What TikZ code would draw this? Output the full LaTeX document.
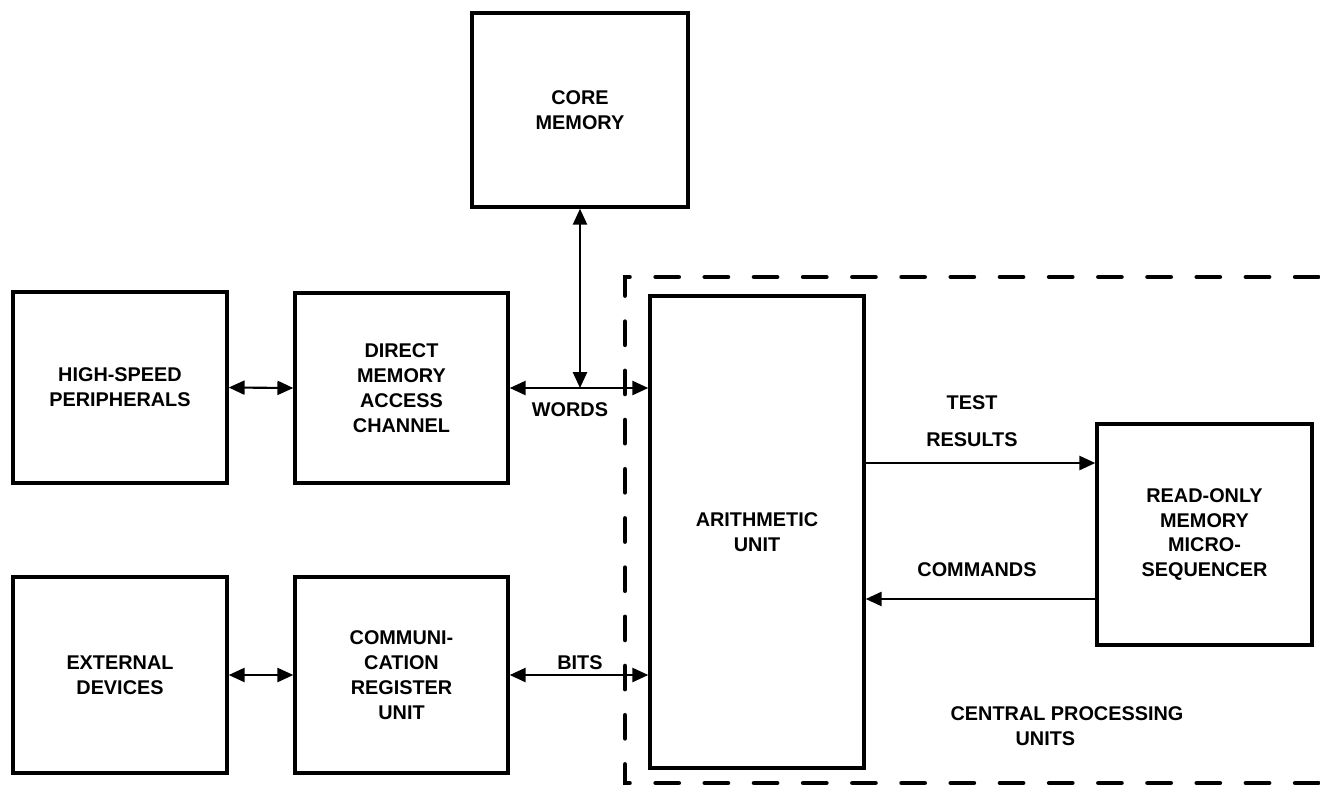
\documentclass[tikz,border=0pt]{standalone}
\usepackage{fontspec}
\setmainfont{Liberation Sans}
\usetikzlibrary{arrows.meta}

\begin{document}
\begin{tikzpicture}[x=0.02cm,y=-0.02cm,
    every node/.style={font=\fontsize{11.3}{14.2}\selectfont\bfseries},
    unit/.style={draw,line width=2pt,align=center,inner sep=0pt},
    link/.style={line width=1.2pt,{Triangle[length=9pt,width=8pt]}-{Triangle[length=9pt,width=8pt]}},
    oneway/.style={line width=1.2pt,-{Triangle[length=9pt,width=8pt]}},
    cpu/.style={line width=2.8pt,line cap=round,dash pattern=on 13pt off 15pt,dash phase=6.5pt}]
    \useasboundingbox (0,0) rectangle (1320,789);
    % the boxes
    \node[unit,minimum width=4.32cm,minimum height=3.88cm] (core) at (580,110) {CORE\\MEMORY};
    \node[unit,minimum width=4.28cm,minimum height=3.82cm] (hsp) at (120,387.5) {HIGH-SPEED\\PERIPHERALS};
    \node[unit,minimum width=4.26cm,minimum height=3.8cm] (dma) at (401.5,388) {DIRECT\\MEMORY\\ACCESS\\CHANNEL};
    \node[unit,minimum width=4.28cm,minimum height=3.92cm] (ext) at (120,675) {EXTERNAL\\DEVICES};
    \node[unit,minimum width=4.26cm,minimum height=3.92cm] (cru) at (401.5,675) {COMMUNI-\\CATION\\REGISTER\\UNIT};
    \node[unit,minimum width=4.28cm,minimum height=9.44cm] (au) at (757,532) {ARITHMETIC\\UNIT};
    \node[unit,minimum width=4.3cm,minimum height=4.42cm] (rom) at (1204.5,534.5) {READ-ONLY\\MEMORY\\MICRO-\\SEQUENCER};
    % central processing units frame
    \draw[cpu] (625,530) -- (625,277) -- (1340,277);
    \draw[cpu] (625,530) -- (625,783) -- (1340,783);
    % connections
    \draw[link] (hsp.east) -- (dma.west);
    \draw[link] (dma.east) -- (dma.east -| au.west);
    \draw[link] (core.south) -- (core.south |- dma.east);
    \draw[link] (ext.east) -- (cru.west);
    \draw[link] (cru.east) -- (cru.east -| au.west);
    \coordinate (tr) at ([yshift=1.43cm]rom.west);
    \coordinate (cmd) at ([yshift=-1.29cm]rom.west);
    \draw[oneway] (tr -| au.east) -- (tr);
    \draw[oneway] (cmd) -- (cmd -| au.east);
    % labels
    \node (words) at (570,410) {WORDS};
    \node (bits) at (580,663) {BITS};
    \node[align=center] (test) at (972,421) {TEST\\[7pt]RESULTS};
    \node (cmds) at (977,570) {COMMANDS};
    \node[align=left] (cpuname) at (1067,726) {CENTRAL PROCESSING\\\hspace*{37pt}UNITS};
\end{tikzpicture}
\end{document}
